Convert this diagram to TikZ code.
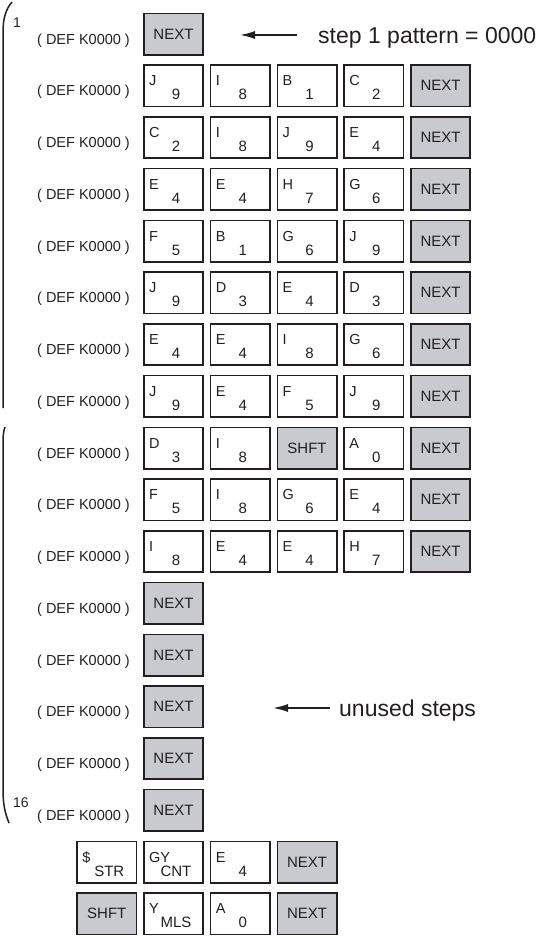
\documentclass[tikz,border=0pt]{standalone}
\usepackage{fontspec}
\setmainfont{Liberation Sans}
\usetikzlibrary{arrows.meta}
\definecolor{ink}{RGB}{35,31,32}
\definecolor{keygray}{RGB}{200,202,208}
\tikzset{
  keybox/.style={draw=ink, line width=1.7pt, fill=white, minimum width=59.3pt, minimum height=41.3pt, inner sep=0pt},
  graykey/.style={keybox, fill=keygray, text=ink, font=\fontsize{15}{15}\selectfont},
  keyup/.style={anchor=base west, inner sep=0pt, text=ink, font=\fontsize{14.5}{14.5}\selectfont},
  keydown/.style={anchor=base, inner sep=0pt, text=ink, font=\fontsize{15}{15}\selectfont},
  deflabel/.style={anchor=base, inner sep=0pt, text=ink, font=\fontsize{14.5}{14.5}\selectfont},
  steplabel/.style={anchor=base west, inner sep=0pt, text=ink, font=\fontsize{23}{23}\selectfont},
  stepnum/.style={inner sep=0pt, text=ink, font=\fontsize{14}{14}\selectfont},
  pointer/.style={draw=ink, line width=1.5pt, -{Latex[length=15pt,width=8pt]}},
  bracket/.style={draw=ink, line width=1.5pt}
}
\begin{document}
\begin{tikzpicture}[x=1pt, y=1pt]
  \useasboundingbox (0,0) rectangle (548,-937);
  \foreach \r in {1,...,16}{
    \pgfmathsetmacro\yy{-34-51.75*(\r-1)}
    \node[deflabel] (def\r) at (83.5,\yy-10.2) {( DEF K0000 )};
  }
  \foreach \r/\keys in {2/{1/J/9,2/I/8,3/B/1,4/C/2}, 3/{1/C/2,2/I/8,3/J/9,4/E/4},
      4/{1/E/4,2/E/4,3/H/7,4/G/6}, 5/{1/F/5,2/B/1,3/G/6,4/J/9},
      6/{1/J/9,2/D/3,3/E/4,4/D/3}, 7/{1/E/4,2/E/4,3/I/8,4/G/6},
      8/{1/J/9,2/E/4,3/F/5,4/J/9}, 9/{1/D/3,2/I/8,4/A/0},
      10/{1/F/5,2/I/8,3/G/6,4/E/4}, 11/{1/I/8,2/E/4,3/E/4,4/H/7},
      17/{0/\$/STR,1/GY/CNT,2/E/4}, 18/{1/Y/MLS,2/A/0}}{
    \pgfmathsetmacro\yy{-34-51.75*(\r-1)}
    \foreach \c/\l/\d in \keys {
      \node[keybox] (k\r-\c) at ({173.5+66.75*(\c-1)},\yy) {};
      \node[keyup, xshift=6pt] (k\r-\c-a) at (k\r-\c.west) {\l};
      \node[keydown, xshift=2.5pt, yshift=-14pt] (k\r-\c-b) at (k\r-\c.center) {\d};
    }
  }
  \foreach \r/\c in {1/1,2/5,3/5,4/5,5/5,6/5,7/5,8/5,9/5,10/5,11/5,12/1,13/1,14/1,15/1,16/1,17/3,18/3}{
    \pgfmathsetmacro\yy{-34-51.75*(\r-1)}
    \node[graykey] (k\r-\c) at ({173.5+66.75*(\c-1)},\yy) {NEXT};
  }
  \node[graykey] (k9-3) at (307,-448) {SHFT};
  \node[graykey] (k18-0) at (106.75,-913.75) {SHFT};
  \node[stepnum] (num1) at (17,-23) {1};
  \node[stepnum] (num16) at (21,-803) {16};
  \node[steplabel] (steptxt) at (318,-43.3) {step 1 pattern = 0000};
  \node[steplabel] (unusedtxt) at (339,-716.5) {unused steps};
  \coordinate (steptail) at (297,-35);
  \coordinate (steptip) at (240,-35);
  \coordinate (unusedtail) at (330,-708);
  \coordinate (unusedtip) at (273,-708);
  \draw[pointer] (steptail) -- (steptip);
  \draw[pointer] (unusedtail) -- (unusedtip);
  \draw[bracket] (12,-2) .. controls (6,-9) and (3,-18) .. (3,-32) -- (3,-408);
  \draw[bracket] (5,-427) .. controls (3.5,-431) and (3,-436) .. (3,-442) -- (3,-790) .. controls (3,-804) and (5,-813) .. (9,-823);
\end{tikzpicture}
\end{document}
